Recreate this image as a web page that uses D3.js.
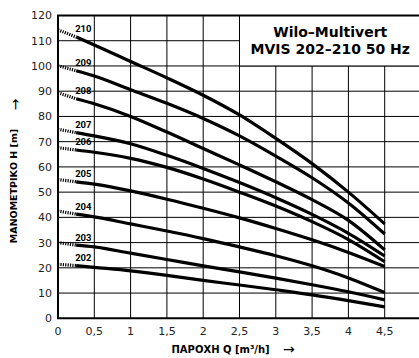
<!DOCTYPE html>
<html>
<head>
<meta charset="utf-8">
<script src="https://cdn.jsdelivr.net/npm/d3@7"></script>
<style>
  html, body { margin: 0; padding: 0; background: #fff; }
  svg { display: block; }
</style>
</head>
<body>
<svg id="chart" width="419" height="358"></svg>
<script>
// ---- Data ----
const flowQ = [0, 0.25, 0.5, 1, 1.5, 2, 2.5, 3, 3.5, 4, 4.5];
const pumpNames = ["202", "203", "204", "205", "206", "207", "208", "209", "210"];
const head202 = [21.4, 20.9, 20.2, 18.8, 17.0, 15.0, 13.2, 11.3, 9.3, 7.0, 4.5];
const head203 = [30.0, 29.0, 28.3, 25.8, 23.3, 20.8, 18.4, 15.9, 13.3, 10.5, 7.3];
const head204 = [42.5, 41.3, 40.2, 37.4, 34.6, 31.6, 28.3, 24.8, 20.8, 16.0, 10.2];
const head205 = [55.0, 54.1, 53.2, 50.5, 47.2, 43.6, 39.8, 35.6, 31.1, 26.1, 20.5];
const head206 = [67.6, 66.7, 65.8, 63.4, 59.8, 55.2, 50.0, 44.5, 38.3, 31.2, 22.4];
const head207 = [74.9, 73.6, 72.3, 69.2, 64.6, 59.4, 53.8, 47.8, 41.2, 33.7, 24.7];
const head208 = [89.4, 87.0, 85.0, 80.0, 73.8, 67.3, 60.8, 54.1, 47.0, 38.8, 27.1];
const head209 = [100.1, 98.1, 96.0, 90.6, 85.2, 79.2, 72.3, 64.3, 55.7, 45.7, 33.4];
const head210 = [114.3, 111.5, 108.3, 101.8, 95.3, 88.4, 80.6, 71.3, 61.3, 50.0, 37.4];
const allHeads = [head202, head203, head204, head205, head206, head207, head208, head209, head210];

const xTicks = [0, 0.5, 1, 1.5, 2, 2.5, 3, 3.5, 4, 4.5];
const xTickLabels = ["0", "0,5", "1", "1,5", "2", "2,5", "3", "3,5", "4", "4,5"];
const yTicks = [0, 10, 20, 30, 40, 50, 60, 70, 80, 90, 100, 110, 120];
const titleLines = ["Wilo–Multivert", "MVIS 202–210 50 Hz"];
const xTitle = "ΠΑΡΟΧΗ Q [m³/h]";
const yTitle = "ΜΑΝΟΜΕΤΡΙΚΟ Η [m]";

// ---- Scales ----
const svg = d3.select("#chart");
const x = d3.scaleLinear().domain([0, 5]).range([58, 421]);
const y = d3.scaleLinear().domain([0, 120]).range([318.3, 15.5]);

// ---- Grid ----
const grid = svg.append("g");
grid.selectAll("line.v").data(xTicks.filter(d => d > 0)).join("line")
  .attr("x1", d => x(d)).attr("x2", d => x(d))
  .attr("y1", y(0)).attr("y2", y(120))
  .attr("stroke", "#000").attr("stroke-width", 1);
grid.selectAll("line.h").data(yTicks.filter(d => d > 0 && d < 120)).join("line")
  .attr("x1", x(0)).attr("x2", x(5))
  .attr("y1", d => y(d)).attr("y2", d => y(d))
  .attr("stroke", "#000").attr("stroke-width", 1);

// ---- Title box ----
svg.append("rect")
  .attr("x", x(2.5)).attr("y", y(120))
  .attr("width", x(5) - x(2.5)).attr("height", y(100) - y(120))
  .attr("fill", "#fff").attr("stroke", "#000").attr("stroke-width", 1);
svg.append("g").selectAll("text").data(titleLines).join("text")
  .attr("x", (x(2.5) + x(5)) / 2)
  .attr("y", (d, i) => 37.3 + i * 17)
  .attr("text-anchor", "middle")
  .attr("font-family", "DejaVu Sans")
  .attr("font-weight", "bold")
  .attr("font-size", 14)
  .attr("fill", "#000")
  .text(d => d);

// ---- Frame ----
svg.append("line").attr("x1", x(0) - 1).attr("x2", x(5)).attr("y1", y(120)).attr("y2", y(120))
  .attr("stroke", "#000").attr("stroke-width", 2);
svg.append("line").attr("x1", x(0) - 1).attr("x2", x(5)).attr("y1", y(0)).attr("y2", y(0))
  .attr("stroke", "#000").attr("stroke-width", 2);
svg.append("line").attr("x1", x(0)).attr("x2", x(0)).attr("y1", y(120)).attr("y2", y(0))
  .attr("stroke", "#000").attr("stroke-width", 2);

// ---- Curves ----
const line = d3.line().x(d => x(d[0])).y(d => y(d[1])).curve(d3.curveMonotoneX);
const curves = svg.append("g");
allHeads.forEach((h, i) => {
  const pts = flowQ.map((q, j) => [q, h[j]]);
  curves.append("path")
    .attr("d", line(pts.slice(1)))
    .attr("fill", "none").attr("stroke", "#000")
    .attr("stroke-width", 3.2).attr("stroke-linecap", "butt");
  curves.append("path")
    .attr("d", d3.line().x(d => x(d[0])).y(d => y(d[1]))(pts.slice(0, 2)))
    .attr("fill", "none").attr("stroke", "#000")
    .attr("stroke-width", 3.2).attr("stroke-dasharray", "1.2,1.2");
  curves.append("text")
    .attr("x", x(flowQ[1]) - 1)
    .attr("y", y(h[1]) - 4.5)
    .attr("font-family", "Roboto")
    .attr("font-weight", "bold")
    .attr("font-size", 9.5)
    .attr("fill", "#000")
    .text(pumpNames[i]);
});

// ---- Axis labels ----
svg.append("g").selectAll("text").data(yTicks).join("text")
  .attr("x", 52)
  .attr("y", d => y(d))
  .attr("dy", "0.36em")
  .attr("text-anchor", "end")
  .attr("font-family", "DejaVu Sans")
  .attr("font-size", 11)
  .attr("fill", "#222")
  .text(d => d);

svg.append("g").selectAll("text").data(xTicks).join("text")
  .attr("x", d => x(d))
  .attr("y", 335)
  .attr("text-anchor", "middle")
  .attr("font-family", "DejaVu Sans")
  .attr("font-size", 11)
  .attr("fill", "#222")
  .text((d, i) => xTickLabels[i]);

svg.append("text")
  .attr("x", 171.5).attr("y", 353)
  .attr("font-family", "DejaVu Sans").attr("font-weight", "bold").attr("font-size", 10)
  .attr("fill", "#000")
  .text(xTitle);
svg.append("text")
  .attr("x", 283).attr("y", 354)
  .attr("font-family", "DejaVu Sans").attr("font-size", 14)
  .attr("fill", "#000")
  .text("→");

svg.append("text")
  .attr("transform", "translate(16.5,186) rotate(-90)")
  .attr("text-anchor", "middle")
  .attr("font-family", "DejaVu Sans").attr("font-weight", "bold").attr("font-size", 9.5)
  .attr("fill", "#000")
  .text(yTitle);
svg.append("text")
  .attr("transform", "translate(19.5,104.5) rotate(-90)")
  .attr("text-anchor", "middle")
  .attr("font-family", "DejaVu Sans").attr("font-size", 14)
  .attr("fill", "#000")
  .text("→");
</script>
</body>
</html>
